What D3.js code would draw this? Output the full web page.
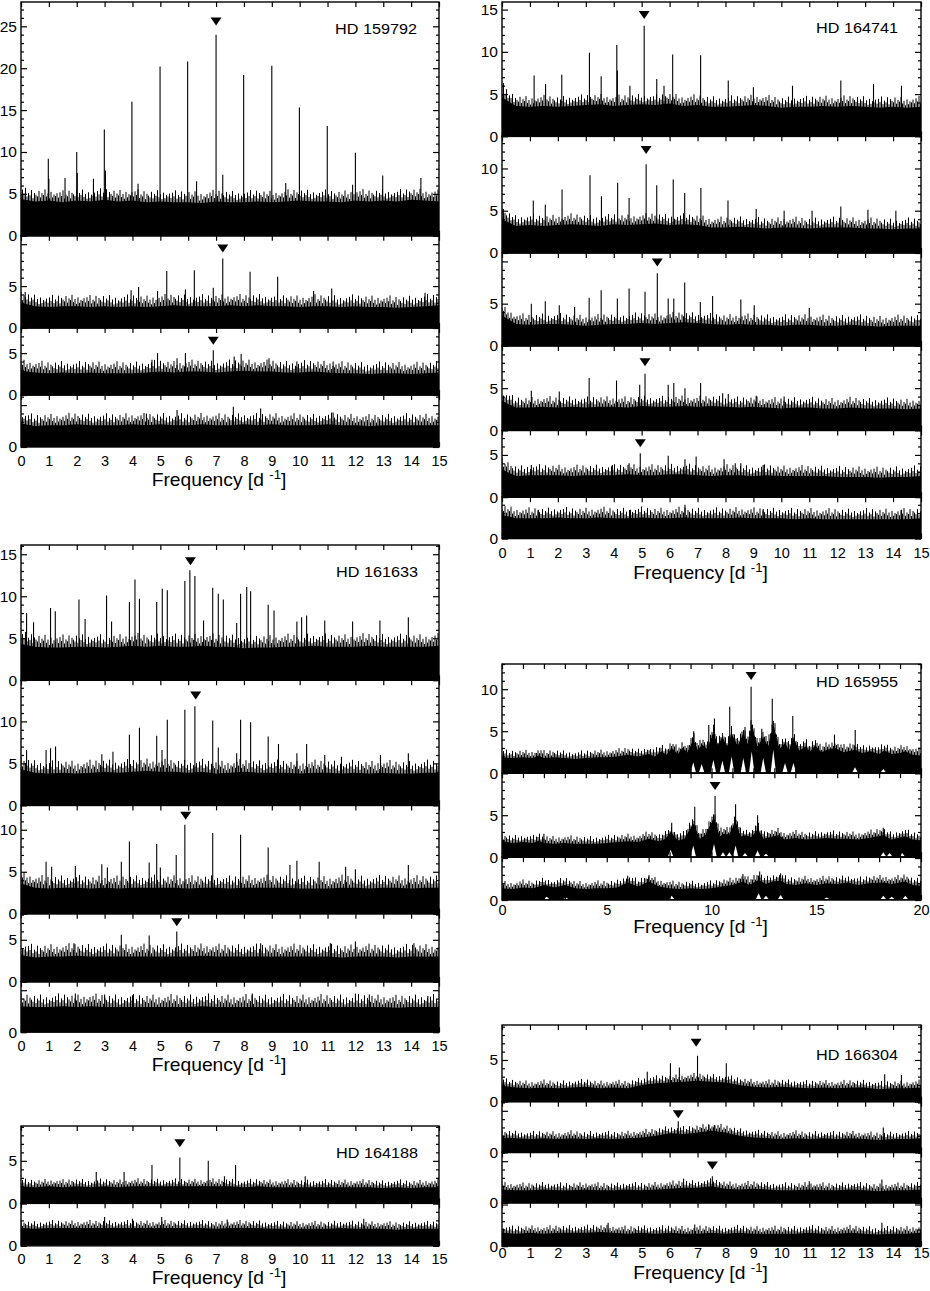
<!DOCTYPE html>
<html>
<head>
<meta charset="utf-8">
<script src="https://cdn.jsdelivr.net/npm/d3@7"></script>
<style>
  body { margin: 0; background: #fff; }
  svg { display: block; font-family: "Liberation Sans", Arial, Helvetica, sans-serif; }
</style>
</head>
<body>
<div id="chart"></div>
<script>

// ---------- data ----------
// noise arrays: level of the dense part of the periodogram, every 0.5 d-1 from 0 to 15
// peaks: [frequency, amplitude], marks: [frequency, level of triangle tip]

// HD 159792
const ymax159792 = [27.9, 11, 8, 6.2];
const noise159792 = [
  [4.4,4.1,4.2,4.0,4.2,4.1,4.3,4.1,4.2,4.0,4.1,4.0,4.0,3.9,4.1,4.0,4.0,4.1,4.0,4.1,4.2,4.1,4.1,4.0,4.2,4.1,4.2,4.1,4.3,4.2,4.1],
  [3.0,2.6,2.5,2.6,2.6,2.5,2.6,2.5,2.6,2.5,2.6,2.7,2.6,2.6,2.6,2.7,2.6,2.7,2.6,2.6,2.5,2.6,2.6,2.5,2.6,2.5,2.5,2.4,2.5,2.6,2.7],
  [2.9,2.7,2.6,2.7,2.6,2.7,2.6,2.6,2.6,2.7,2.8,2.7,2.8,2.8,2.7,2.8,2.9,2.8,2.8,2.7,2.7,2.8,2.7,2.6,2.6,2.5,2.6,2.6,2.5,2.6,2.7],
  [2.8,2.5,2.6,2.6,2.7,2.6,2.6,2.6,2.7,2.6,2.7,2.6,2.6,2.7,2.6,2.6,2.7,2.6,2.7,2.6,2.6,2.6,2.7,2.6,2.6,2.5,2.6,2.6,2.6,2.6,2.6]
];
const peaks159792 = [
  [[0.98,9.2],[2.0,10.0],[2.99,12.7],[3.98,16.0],[4.99,20.2],[5.98,20.8],[7.0,24.0],[7.99,19.2],[9.0,20.3],[9.99,15.3],[10.99,13.1],[12.0,9.9],
   [1.58,6.9],[2.6,6.8],[3.03,7.8],[7.24,7.3],[12.98,7.2],[6.3,6.5],[14.35,6.9],[4.2,6.2],[9.5,6.3],[11.9,6.1],[1.0,6.8],[2.02,7.5]],
  [[5.23,6.8],[6.22,6.9],[7.24,8.3],[8.22,6.7],[9.21,6.1],[3.95,4.5],[4.22,4.9],[5.9,4.6],[6.9,4.8],[11.15,4.7],[0.15,4.3],[4.9,4.4],[10.5,4.4],[14.5,4.2]],
  [[6.9,5.35],[4.9,5.0],[5.9,5.0],[5.6,4.4],[7.65,4.6],[7.9,4.9],[8.9,4.4],[4.7,4.2],[9.9,4.0],[11.2,4.0]],
  [[7.62,4.8],[5.6,4.4],[8.6,4.6],[4.5,4.0],[11.2,4.1]]
];
const marks159792 = [[7.0,25.1],[7.24,9.0],[6.9,6.0],null];

// HD 164741
const ymax164741 = [15.9, 13.8, 11, 10, 7.9, 4.9];
const noise164741 = [
  [4.6,3.6,3.5,3.6,3.5,3.6,3.7,3.8,3.6,3.7,3.8,3.7,3.9,3.6,3.7,3.5,3.5,3.6,3.7,3.6,3.4,3.5,3.5,3.6,3.5,3.6,3.5,3.4,3.5,3.4,3.5],
  [4.0,3.2,3.3,3.2,3.3,3.4,3.3,3.2,3.4,3.3,3.4,3.5,3.3,3.4,3.3,3.0,3.0,3.1,3.0,2.9,3.0,3.0,2.9,3.0,3.0,3.0,2.9,2.9,2.8,2.9,2.9],
  [3.6,2.6,2.5,2.6,2.6,2.5,2.4,2.5,2.6,2.6,2.7,2.6,2.7,2.8,2.7,2.6,2.5,2.6,2.5,2.5,2.4,2.5,2.5,2.4,2.4,2.5,2.4,2.3,2.4,2.4,2.4],
  [3.5,2.7,2.7,2.8,2.7,2.8,2.7,2.8,2.8,2.7,2.9,2.8,2.8,2.9,2.8,2.9,2.8,2.7,2.8,2.7,2.6,2.7,2.7,2.6,2.6,2.7,2.6,2.6,2.6,2.5,2.6],
  [3.3,2.5,2.6,2.6,2.6,2.5,2.6,2.6,2.6,2.7,2.6,2.6,2.7,2.7,2.6,2.5,2.6,2.6,2.5,2.6,2.5,2.5,2.5,2.5,2.4,2.4,2.4,2.3,2.4,2.4,2.5],
  [2.8,2.4,2.4,2.4,2.5,2.4,2.4,2.5,2.4,2.4,2.5,2.4,2.4,2.5,2.4,2.4,2.4,2.5,2.4,2.4,2.4,2.3,2.4,2.3,2.3,2.3,2.3,2.3,2.3,2.3,2.4]
];
const peaks164741 = [
  [[5.09,13.1],[4.11,10.8],[3.13,9.9],[6.11,9.7],[7.11,9.6],[2.14,7.3],[1.15,7.2],[3.55,7.1],[5.54,6.8],[8.1,6.6],[1.56,6.2],[0.05,6.3],
   [4.13,7.8],[4.58,6.0],[5.8,6.0],[12.13,6.6],[10.4,6.0],[13.3,6.2],[14.3,6.0],[9.0,5.8]],
  [[5.16,10.5],[3.15,9.2],[6.13,8.7],[4.14,8.3],[5.54,8.0],[7.12,7.7],[2.15,7.5],[6.54,7.1],[3.56,6.7],[4.55,6.5],[1.12,6.2],[8.09,6.2],
   [1.55,5.7],[12.13,5.5],[9.1,5.2],[10.1,5.0],[11.1,5.0],[13.1,5.1],[14.1,5.0],[0.05,5.2]],
  [[5.56,8.6],[6.54,7.5],[4.55,6.8],[3.55,6.6],[5.12,6.4],[4.13,5.6],[3.12,5.7],[7.54,5.9],[5.95,5.6],[6.15,5.6],[7.1,5.2],[8.55,5.5],
   [1.55,5.3],[9.03,4.8],[1.05,5.0],[2.05,4.8],[2.6,4.6],[11.0,4.5]],
  [[5.12,6.7],[3.12,6.2],[4.1,5.9],[4.93,5.4],[5.95,5.4],[6.15,5.6],[7.11,5.6],[6.55,5.0],[1.05,4.7],[2.05,4.6],[7.9,4.4],[8.1,4.3],[9.1,4.1],[10.1,4.0]],
  [[4.95,5.2],[5.95,4.9],[6.55,4.5],[6.95,4.8],[7.95,4.5],[4.55,4.0],[8.35,4.0],[8.55,4.0],[9.35,3.8],[1.05,3.8],[3.95,3.8]],
  [[6.55,4.0],[9.35,3.5],[1.3,3.4],[4.6,3.4],[14.3,3.4]]
];
const marks164741 = [[5.09,13.9],[5.16,11.7],[5.56,9.4],[5.12,7.6],[4.95,5.9],null];

// HD 161633
const ymax161633 = [16.1, 14.9, 12.9, 8.1, 6.0];
const noise161633 = [
  [4.3,4.0,3.9,3.9,4.0,4.0,3.9,4.0,4.1,4.0,4.1,4.0,4.0,4.1,4.0,4.0,3.8,3.9,3.9,4.0,4.0,4.1,4.0,4.0,4.0,4.1,4.0,4.0,4.0,4.0,4.1],
  [4.3,3.9,3.8,3.9,3.8,3.9,4.0,3.9,4.0,4.1,4.0,4.0,3.9,4.0,3.8,3.9,4.0,3.9,3.9,3.9,3.8,3.9,3.9,3.8,3.9,3.8,3.9,3.8,3.8,3.9,3.9],
  [3.6,3.1,3.0,3.1,3.1,3.0,3.1,3.0,3.1,3.1,3.1,3.1,3.0,3.1,3.1,3.0,3.1,3.1,3.1,3.1,3.0,3.0,3.0,3.1,3.1,3.0,3.1,3.1,3.0,3.1,3.1],
  [3.2,2.9,3.0,3.0,3.1,3.0,3.0,3.0,3.0,3.0,3.0,3.0,3.0,3.1,3.0,3.0,3.0,3.0,3.0,3.0,3.0,3.0,3.0,2.9,3.0,3.0,3.0,2.9,3.0,3.0,3.0],
  [3.1,3.0,3.0,3.1,3.0,3.1,3.0,3.0,3.0,3.0,3.0,3.0,3.0,3.1,3.0,3.0,3.0,3.0,3.0,3.0,3.0,3.0,3.0,3.0,3.0,3.0,3.0,2.9,3.0,3.0,3.0]
];
const peaks161633 = [
  [[6.06,13.1],[6.24,12.4],[5.88,11.8],[4.09,12.0],[6.88,11.0],[7.08,10.3],[7.26,9.6],[8.1,11.1],[7.88,10.3],[8.24,10.6],[5.07,10.9],[5.25,10.7],
   [4.87,9.3],[3.89,9.3],[4.25,9.7],[3.07,10.1],[2.08,9.6],[8.87,9.0],[9.08,8.3],[1.06,8.6],[1.23,8.2],[0.2,8.0],[10.25,7.7],[10.07,7.5],
   [7.74,6.8],[12.88,7.1],[13.9,7.5],[11.9,7.0],[10.9,7.1],[2.3,7.3],[0.45,6.9],[3.25,7.0],[6.55,7.1],[9.9,7.0]],
  [[6.24,11.8],[5.88,11.4],[5.25,10.2],[6.88,10.1],[7.88,10.2],[8.24,9.9],[4.25,9.25],[3.89,8.4],[4.87,8.3],[8.87,8.2],[9.24,7.3],[10.25,7.3],
   [5.06,6.6],[7.08,6.9],[7.74,6.2],[1.24,7.0],[1.06,6.8],[0.9,6.6],[0.2,6.6],[9.9,6.2],[10.9,6.0],[3.3,6.4],[2.9,6.1],[12.9,6.0],[13.9,6.2],[11.5,5.8]],
  [[5.88,10.6],[6.88,9.6],[7.88,9.4],[3.89,8.6],[4.87,8.3],[8.87,7.9],[5.57,7.0],[3.6,6.2],[4.6,6.1],[0.9,6.2],[10.7,6.2],[9.9,6.3],
   [9.65,5.8],[13.9,5.8],[1.1,5.6],[1.95,5.7],[2.9,5.9],[3.1,5.5],[5.0,5.5],[11.65,5.6],[12.0,5.3]],
  [[5.59,6.0],[3.6,5.6],[4.6,5.5],[1.9,4.6],[8.6,4.6],[11.1,4.6],[12.0,4.8],[14.1,4.6]],
  [[1.95,4.6],[3.0,4.5],[4.0,4.4],[8.3,4.6],[12.0,4.6],[12.5,4.5],[14.6,4.3]]
];
const marks161633 = [[6.08,13.7],[6.27,12.6],[5.91,11.2],[5.59,6.6],null];

// HD 164188
const ymax164188 = [9.1, 5.0];
const noise164188 = [
  [2.0,1.9,2.0,1.9,2.0,1.9,2.0,1.9,2.0,2.0,2.0,2.0,2.0,2.0,2.0,2.0,1.9,2.0,1.9,1.9,1.9,1.9,1.9,1.9,1.9,1.9,1.8,1.9,1.8,1.9,1.9],
  [2.1,2.0,2.1,2.1,2.1,2.1,2.1,2.1,2.1,2.1,2.1,2.1,2.1,2.1,2.0,2.1,2.1,2.1,2.0,2.0,2.0,2.0,2.0,2.1,2.0,2.0,2.0,1.9,2.0,2.0,2.0]
];
const peaks164188 = [
  [[5.7,5.4],[6.72,5.0],[7.7,4.5],[4.7,4.5],[3.7,3.7],[2.7,3.7],[7.3,3.2],[10.2,3.2]],
  [[3.0,3.4],[5.05,3.4],[4.0,3.2],[12.3,3.2],[7.4,3.1]]
];
const marks164188 = [[5.7,6.6],null];

// HD 165955 (0-20 d-1, noise given as [frequency, level] pairs)
const ymax165955 = [13.0, 10.0, 5.1];
const noise165955 = [
  [[0,1.9],[0.5,1.8],[1,1.9],[1.5,1.8],[1.75,2.1],[2,1.8],[2.5,1.9],[3,1.8],[3.5,1.7],[4,1.8],[4.5,1.9],[5,1.9],[5.5,2.0],[6,2.2],[6.5,2.0],
   [7,2.3],[7.3,2.0],[7.6,2.6],[7.85,2.2],[8.1,3.0],[8.4,2.3],[8.6,3.0],[8.85,2.5],[9.13,4.0],[9.35,2.8],[9.55,3.4],[9.8,2.9],[10.09,4.9],
   [10.3,3.4],[10.52,4.3],[10.75,3.2],[10.96,4.7],[11.25,3.3],[11.52,4.8],[11.72,3.5],[11.92,5.8],[12.2,3.2],[12.47,4.3],[12.7,3.2],[12.95,5.9],
   [13.25,2.9],[13.51,3.6],[13.7,2.8],[13.91,4.2],[14.2,2.7],[14.5,3.2],[14.7,2.6],[14.95,3.3],[15.25,2.5],[15.5,2.8],[15.9,3.0],[16.3,2.5],
   [16.85,2.8],[17.2,2.4],[17.6,2.6],[18.0,2.3],[18.25,2.7],[18.6,2.3],[19.0,2.4],[19.25,2.6],[19.6,2.2],[20,2.1]],
  [[0,1.9],[0.5,1.7],[1,1.8],[1.5,1.7],[1.75,2.0],[2,1.7],[2.5,1.6],[3,1.7],[3.5,1.6],[4,1.6],[4.5,1.6],[5,1.7],[5.5,1.8],[6,1.9],[6.5,1.8],
   [7,2.2],[7.5,1.9],[7.8,2.2],[8.05,3.0],[8.4,2.0],[8.7,2.2],[9.13,4.0],[9.45,2.2],[9.7,2.6],[10.12,4.8],[10.4,2.5],[10.6,2.8],[10.85,2.7],
   [11.15,4.3],[11.4,2.5],[11.6,2.6],[11.9,2.4],[12.2,3.3],[12.5,2.2],[12.8,2.4],[13.2,2.6],[13.5,2.1],[14,2.3],[14.5,2.1],[15,2.2],[15.5,2.3],
   [16,2.2],[16.5,2.2],[17,2.1],[17.5,2.3],[18.2,2.6],[18.6,2.1],[19.25,2.5],[19.6,2.1],[20,2.0]],
  [[0,1.4],[0.5,1.3],[1,1.5],[1.5,1.4],[2.0,1.8],[2.5,1.5],[3.0,1.8],[3.5,1.4],[4,1.3],[4.5,1.4],[5,1.4],[5.5,1.5],[6.0,2.1],[6.5,1.6],
   [7.0,2.2],[7.5,1.6],[8,1.4],[8.5,1.3],[9,1.4],[9.5,1.3],[10,1.4],[10.5,1.6],[11,1.8],[11.5,2.2],[11.8,1.8],[12.25,2.4],[12.6,1.9],[12.9,2.2],
   [13.3,2.3],[13.6,1.9],[14,1.8],[14.5,2.0],[15,1.8],[15.5,2.0],[16,1.9],[16.5,2.1],[17,1.8],[17.5,2.0],[18.2,2.1],[18.6,1.9],[19.25,2.2],
   [19.6,1.8],[20,1.7]]
];
const peaks165955 = [
  [[11.89,10.3],[12.9,8.85],[10.87,7.9],[13.88,6.8],[9.87,5.75],[10.14,6.5],[12.4,5.3],[16.86,5.15],[15.87,4.6],[9.15,5.0],[11.6,5.5]],
  [[10.17,7.3],[9.2,6.0],[11.15,6.3],[12.2,5.0],[8.1,4.1],[18.2,3.5],[2.0,2.8]],
  [[12.3,3.4],[11.5,3.1],[13.3,3.2],[6.0,2.9],[7.0,2.8]]
];
// white notches where the spectrum drops to zero: [frequency, height]
const gaps165955 = [
  [[9.13,1.3],[9.53,1.1],[10.09,1.6],[10.52,1.5],[10.96,2.0],[11.52,1.8],[11.92,2.6],[12.47,1.8],[12.95,2.8],[13.51,1.2],[13.91,1.2],[16.85,0.7],[18.2,0.5]],
  [[8.05,0.9],[9.13,1.4],[10.12,1.6],[10.55,0.6],[10.85,0.6],[11.15,1.4],[11.6,0.5],[12.2,0.8],[12.6,0.4],[18.2,0.6],[18.5,0.5],[19.1,0.5]],
  [[2.13,0.4],[3.05,0.3],[8.1,0.5],[12.25,0.8],[12.6,0.5],[13.3,0.6],[15.5,0.3],[18.2,0.5],[18.6,0.4],[19.25,0.5]]
];
const marks165955 = [[11.89,11.1],[10.17,8.0],null];

// HD 166304
const ymax166304 = [9.2, 6.1, 6.05, 5.2];
const noise166304 = [
  [1.9,1.7,1.6,1.7,1.6,1.7,1.8,1.6,1.7,1.6,2.0,2.2,2.3,2.4,2.5,2.4,2.3,2.0,1.8,1.7,1.8,1.7,1.6,1.7,1.6,1.7,1.7,1.5,1.6,1.6,1.7],
  [1.8,1.7,1.6,1.7,1.6,1.7,1.6,1.7,1.6,1.7,1.8,2.0,2.3,2.2,2.4,2.6,2.4,2.0,1.8,1.7,1.6,1.7,1.6,1.7,1.6,1.7,1.6,1.5,1.6,1.6,1.7],
  [1.6,1.5,1.5,1.6,1.5,1.5,1.6,1.5,1.5,1.6,1.5,1.6,1.7,1.8,1.8,2.0,1.7,1.6,1.7,1.6,1.5,1.5,1.6,1.5,1.5,1.6,1.5,1.4,1.5,1.5,1.6],
  [1.6,1.5,1.6,1.5,1.6,1.6,1.6,1.7,1.6,1.5,1.6,1.5,1.6,1.5,1.5,1.6,1.5,1.6,1.5,1.5,1.5,1.5,1.6,1.5,1.5,1.6,1.5,1.4,1.5,1.5,1.6]
];
const peaks166304 = [
  [[7.0,5.5],[8.03,4.6],[6.03,4.6],[6.35,4.1],[14.3,3.2],[13.7,3.3],[5.2,3.6]],
  [[6.31,3.75],[7.4,3.4],[13.65,3.0],[7.6,3.3]],
  [[7.53,3.2],[6.5,2.9],[13.6,2.8],[11.0,2.6]],
  [[3.8,2.8],[6.9,2.6],[13.6,2.8]]
];
const marks166304 = [[6.95,6.6],[6.31,4.1],[7.53,4.0],null];

const ticks15 = d3.range(0, 16);
const labels15 = d3.range(0, 16);
const ticks20 = d3.range(0, 21);
const labels20 = [0, 5, 10, 15, 20];

// ---------- layout / style ----------
const grid = d3.range(31).map(i => i * 0.5);
const toPairs = arr => arr.map((v, i) => [grid[i], v]);

// hatch texture for the ragged top of the noise band (fraction of fringe height)
const spikeShape = [0.35,0.8,0.5,1.0,0.3,0.6,0.45,0.9,0.25,0.7,0.55,0.4,0.85,0.3,0.65,0.5,0.95,0.35,0.6,0.2,0.75,0.3,0.55,0.45,0.7];
const spikeStep = 1.5;

function makePanels(ymax, noise, peaks, marks, gaps) {
  return ymax.map((m, i) => ({
    ymax: m,
    noise: Array.isArray(noise[i][0]) ? noise[i] : toPairs(noise[i]),
    peaks: peaks[i],
    mark: marks[i],
    gaps: gaps ? gaps[i] : []
  }));
}

const blocks = [
  {title: "HD 159792", x0: 21, x1: 439, top: 2, k: 8.38, fmax: 15, ticks: ticks15, labels: labels15,
   fringe: 12, titleX: 417, titleDy: 32, tickDy: 19, freqDy: 39,
   panels: makePanels(ymax159792, noise159792, peaks159792, marks159792)},
  {title: "HD 164741", x0: 502, x1: 921, top: 2, k: 8.45, fmax: 15, ticks: ticks15, labels: labels15,
   fringe: 11, titleX: 898, titleDy: 31, tickDy: 19.5, freqDy: 40,
   panels: makePanels(ymax164741, noise164741, peaks164741, marks164741)},
  {title: "HD 161633", x0: 21, x1: 439, top: 545, k: 8.4, fmax: 15, ticks: ticks15, labels: labels15,
   fringe: 13, titleX: 418, titleDy: 32, tickDy: 19, freqDy: 38.5,
   panels: makePanels(ymax161633, noise161633, peaks161633, marks161633)},
  {title: "HD 164188", x0: 21, x1: 439, top: 1126, k: 8.5, fmax: 15, ticks: ticks15, labels: labels15,
   fringe: 8, titleX: 418, titleDy: 32, tickDy: 18.5, freqDy: 38,
   panels: makePanels(ymax164188, noise164188, peaks164188, marks164188)},
  {title: "HD 165955", x0: 502, x1: 921, top: 664, k: 8.4, fmax: 20, ticks: ticks20, labels: labels20,
   fringe: 8, titleX: 898, titleDy: 23, tickDy: 15, freqDy: 33,
   panels: makePanels(ymax165955, noise165955, peaks165955, marks165955, gaps165955)},
  {title: "HD 166304", x0: 502, x1: 921, top: 1025, k: 8.33, fmax: 15, ticks: ticks15, labels: labels15,
   fringe: 8, titleX: 898, titleDy: 35, tickDy: 12, freqDy: 33,
   panels: makePanels(ymax166304, noise166304, peaks166304, marks166304)}
];

const svg = d3.select("#chart").append("svg")
    .attr("width", 930)
    .attr("height", 1291);

const defs = svg.append("defs");
let clipCount = 0;

function styleAxis(g, fontSize) {
  g.select(".domain").remove();
  g.selectAll(".tick line").attr("stroke", "#000").attr("stroke-width", 1.2);
  g.selectAll(".tick text").attr("fill", "#000").style("font-size", fontSize + "px");
}

blocks.forEach(b => {
  let x = d3.scaleLinear().domain([0, b.fmax]).range([b.x0, b.x1]);
  let yTop = b.top;
  let last = b.panels.length - 1;

  b.panels.forEach((p, i) => {
    let h = p.ymax * b.k;
    let y = d3.scaleLinear().domain([0, p.ymax]).range([yTop + h, yTop]);
    let g = svg.append("g");

    // clip marks to the panel frame
    let cid = "clip" + (clipCount++);
    defs.append("clipPath").attr("id", cid)
        .append("rect")
        .attr("x", b.x0).attr("y", yTop)
        .attr("width", b.x1 - b.x0).attr("height", h);
    let body = g.append("g").attr("clip-path", `url(#${cid})`);

    let area = d3.area().x(d => x(d[0])).y0(y(0)).y1(d => y(d[1]));

    // peaks (drawn first so the noise band covers their feet)
    body.selectAll(".peak")
        .data(p.peaks)
        .enter().append("line")
        .attr("class", "peak")
        .attr("x1", d => x(d[0])).attr("x2", d => x(d[0]))
        .attr("y1", y(0)).attr("y2", d => y(d[1]))
        .attr("stroke", "#000")
        .attr("stroke-width", 1.1);

    // dense noise
    body.append("path")
        .attr("d", area(p.noise))
        .attr("fill", "#000");

    // ragged fringe: thin vertical hatch standing on the noise outline
    let level = d3.scaleLinear()
        .domain(p.noise.map(d => x(d[0])))
        .range(p.noise.map(d => y(d[1])));
    let hatch = "";
    let n = Math.floor((b.x1 - b.x0) / spikeStep);
    for (let j = 0; j <= n; j++) {
      let px = b.x0 + j * spikeStep;
      let py = level(px);
      let len = b.fringe * spikeShape[(j + i * 7) % spikeShape.length];
      hatch += `M${px.toFixed(1)},${(py + 1).toFixed(1)}V${(py - len).toFixed(1)}`;
    }
    body.append("path")
        .attr("d", hatch)
        .attr("fill", "none")
        .attr("stroke", "#000")
        .attr("stroke-width", 1);

    // white notches (HD 165955)
    body.selectAll(".gap")
        .data(p.gaps)
        .enter().append("path")
        .attr("class", "gap")
        .attr("d", d => `M${x(d[0]) - 2.6},${y(0) - 1} L${x(d[0])},${y(d[1])} L${x(d[0]) + 2.6},${y(0) - 1} Z`)
        .attr("fill", "#fff");

    // frame
    g.append("rect")
        .attr("x", b.x0).attr("y", yTop)
        .attr("width", b.x1 - b.x0).attr("height", h)
        .attr("fill", "none")
        .attr("stroke", "#000")
        .attr("stroke-width", 1.4);

    // y axes, ticks pointing inward
    let majors = d3.range(0, p.ymax + 0.001, 5);
    let minors = d3.range(0, p.ymax + 0.001, 1).filter(v => v % 5 !== 0);
    let minGap = i === 0 ? 5 : 15;
    let fmt = v => (v === 0 || y(v) >= yTop + minGap) ? v : "";

    let yl = g.append("g")
        .attr("transform", `translate(${b.x0},0)`)
        .call(d3.axisLeft(y).tickValues(majors).tickSize(-6).tickPadding(4).tickFormat(fmt));
    styleAxis(yl, 15.5);
    let ylm = g.append("g")
        .attr("transform", `translate(${b.x0},0)`)
        .call(d3.axisLeft(y).tickValues(minors).tickSize(-3).tickFormat(""));
    styleAxis(ylm, 15.5);
    let yr = g.append("g")
        .attr("transform", `translate(${b.x1},0)`)
        .call(d3.axisRight(y).tickValues(majors).tickSize(-6).tickFormat(""));
    styleAxis(yr, 15.5);
    let yrm = g.append("g")
        .attr("transform", `translate(${b.x1},0)`)
        .call(d3.axisRight(y).tickValues(minors).tickSize(-3).tickFormat(""));
    styleAxis(yrm, 15.5);

    // x ticks top and bottom
    let xt = g.append("g")
        .attr("transform", `translate(0,${yTop})`)
        .call(d3.axisTop(x).tickValues(b.ticks).tickSize(-5).tickFormat(""));
    styleAxis(xt, 14.5);
    let xb = g.append("g")
        .attr("transform", `translate(0,${yTop + h})`)
        .call(d3.axisBottom(x).tickValues(b.ticks).tickSize(-5).tickFormat(""));
    styleAxis(xb, 14.5);

    if (i === last) {
      let xl = g.append("g")
          .attr("transform", `translate(0,${yTop + h})`)
          .call(d3.axisBottom(x).tickValues(b.labels).tickSize(0).tickPadding(b.tickDy - 10.3));
      styleAxis(xl, 14.5);

      let ft = g.append("text")
          .attr("transform", `translate(${(b.x0 + b.x1) / 2 - 11},${yTop + h + b.freqDy}) scale(1.1,1)`)
          .attr("text-anchor", "middle")
          .style("font-size", "17.5px")
          .attr("fill", "#000");
      ft.append("tspan").text("Frequency [d ");
      ft.append("tspan").attr("dy", -7).style("font-size", "12px").text("-1");
      ft.append("tspan").attr("dy", 7).text("]");
    }

    // triangle marker above the dominant peak
    if (p.mark) {
      let mx = x(p.mark[0]), my = y(p.mark[1]);
      g.append("path")
          .attr("d", `M${mx - 5.5},${my - 8} L${mx + 5.5},${my - 8} L${mx},${my} Z`)
          .attr("fill", "#000");
    }

    if (i === 0) {
      g.append("text")
          .attr("transform", `translate(${b.titleX},${yTop + b.titleDy}) scale(1.08,1)`)
          .attr("text-anchor", "end")
          .style("font-size", "15px")
          .attr("fill", "#000")
          .text(b.title);
    }

    yTop += h;
  });
});
</script>
</body>
</html>
